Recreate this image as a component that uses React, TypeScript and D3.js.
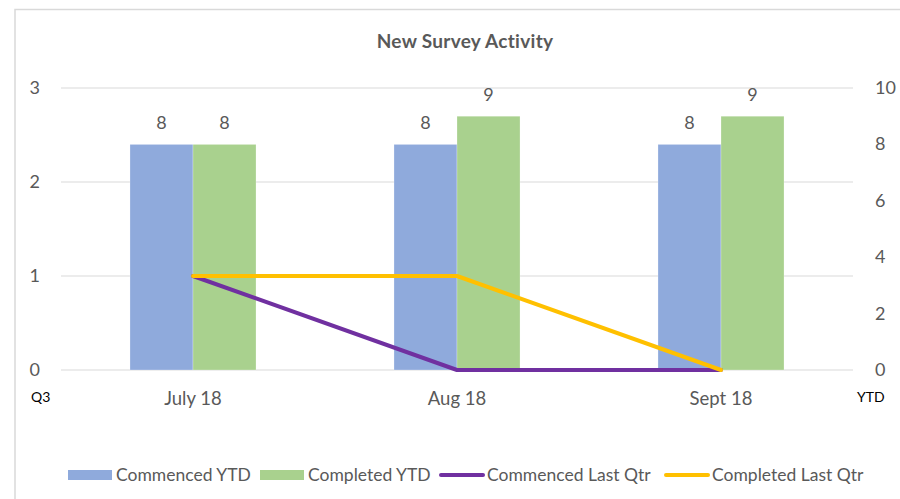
import React from 'react';
import * as d3 from 'd3';

// DATA
const months = ['July 18', 'Aug 18', 'Sept 18'];
const commencedYTD = [8, 8, 8];
const completedYTD = [8, 9, 9];
const commencedLastQtr = [1, 0, 0];
const completedLastQtr = [1, 1, 0];
const leftTicks = [0, 1, 2, 3];
const rightTicks = [0, 2, 4, 6, 8, 10];

const W = 900,
  H = 499;
const margin = { top: 88, bottom: 129, left: 61, right: 47 };
const font = 'Lato, "Open Sans", sans-serif';
const grey = '#595959';
const colors = {
  comYTD: '#8FAADC',
  compYTD: '#A9D18E',
  comQ: '#7030A0',
  compQ: '#FFC000',
};

export default function App() {
  const x = d3
    .scaleBand<string>()
    .domain(months)
    .range([margin.left, W - margin.right]);
  const inner = d3
    .scaleBand<string>()
    .domain(['a', 'b'])
    .range([0, x.bandwidth()])
    .paddingOuter(1.095)
    .paddingInner(0);
  const yL = d3.scaleLinear().domain([0, 3]).range([H - margin.bottom, margin.top]);
  const yR = d3.scaleLinear().domain([0, 10]).range([H - margin.bottom, margin.top]);

  const line = d3
    .line<number>()
    .x((_, i) => (x(months[i]) as number) + x.bandwidth() / 2)
    .y((d) => yL(d));

  const bars = [
    { key: 'a', vals: commencedYTD, color: colors.comYTD },
    { key: 'b', vals: completedYTD, color: colors.compYTD },
  ];

  // legend item start positions
  const legend = [
    { type: 'rect', color: colors.comYTD, label: 'Commenced YTD', x: 68 },
    { type: 'rect', color: colors.compYTD, label: 'Completed YTD', x: 260 },
    { type: 'line', color: colors.comQ, label: 'Commenced Last Qtr', x: 439 },
    { type: 'line', color: colors.compQ, label: 'Completed Last Qtr', x: 664 },
  ];

  return (
    <div style={{ position: 'fixed', left: 0, top: 0 }}>
      <svg width={W} height={H} style={{ display: 'block', background: '#fff' }}>
        {/* frame */}
        <path d={`M15,${H} L15,9.5 L${W},9.5`} fill="none" stroke="#d9d9d9" strokeWidth={1.5} />

        <text x={465} y={48} textAnchor="middle" fontFamily={font} fontWeight="bold" fontSize={19} letterSpacing={0.3} fill={grey}>
          New Survey Activity
        </text>

        {/* grid */}
        {leftTicks.map((t) => (
          <g key={t}>
            <line x1={margin.left} x2={W - margin.right} y1={yL(t)} y2={yL(t)} stroke="#d9d9d9" strokeWidth={1} />
            <text x={40} y={yL(t) + 6} textAnchor="end" fontFamily={font} fontSize={18} fill={grey}>
              {t}
            </text>
          </g>
        ))}
        {rightTicks.map((t) => (
          <text key={t} x={875} y={yR(t) + 6} fontFamily={font} fontSize={18} fill={grey}>
            {t}
          </text>
        ))}

        {/* bars */}
        {bars.map((s) =>
          s.vals.map((v, i) => {
            const bx = (x(months[i]) as number) + (inner(s.key) as number);
            return (
              <g key={s.key + i}>
                <rect
                  x={bx}
                  y={yR(v)}
                  width={inner.bandwidth()}
                  height={yR(0) - yR(v)}
                  fill={s.color}
                  stroke="#fff"
                  strokeOpacity={0.5}
                  strokeWidth={0.5}
                />
                <text
                  x={bx + inner.bandwidth() / 2}
                  y={yR(v) - 15}
                  textAnchor="middle"
                  fontFamily={font}
                  fontSize={18}
                  fill={grey}
                >
                  {v}
                </text>
              </g>
            );
          })
        )}

        {/* lines */}
        <path d={line(commencedLastQtr) || ''} fill="none" stroke={colors.comQ} strokeWidth={4} strokeLinejoin="round" strokeLinecap="round" />
        <path d={line(completedLastQtr) || ''} fill="none" stroke={colors.compQ} strokeWidth={4} strokeLinejoin="round" strokeLinecap="round" />

        {/* category labels */}
        {months.map((m) => (
          <text
            key={m}
            x={(x(m) as number) + x.bandwidth() / 2}
            y={405}
            textAnchor="middle"
            fontFamily={font}
            fontSize={18.5}
            fill={grey}
          >
            {m}
          </text>
        ))}
        <text x={31} y={402} fontFamily={font} fontSize={14} fill="#000">
          Q3
        </text>
        <text x={857} y={402} fontFamily={font} fontSize={14} fill="#000">
          YTD
        </text>

        {/* legend */}
        {legend.map((l) => (
          <g key={l.label}>
            {l.type === 'rect' ? (
              <rect x={l.x} y={470} width={44} height={10} fill={l.color} />
            ) : (
              <line x1={l.x + 2} x2={l.x + 44} y1={475} y2={475} stroke={l.color} strokeWidth={4} strokeLinecap="round" />
            )}
            <text x={l.x + 48} y={481} fontFamily={font} fontSize={17.5} fill={grey}>
              {l.label}
            </text>
          </g>
        ))}
      </svg>
    </div>
  );
}
